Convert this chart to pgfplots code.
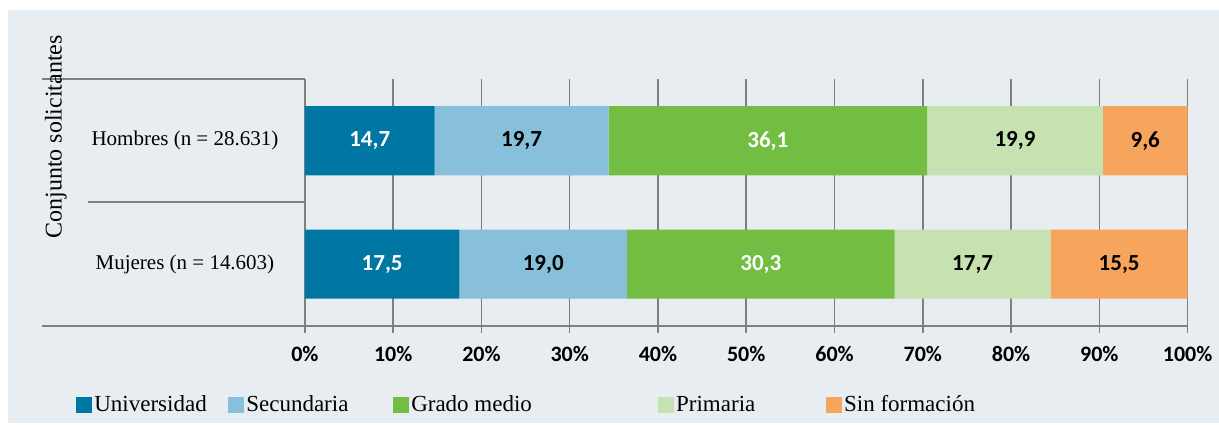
\documentclass[border=0pt]{standalone}
\usepackage{pgfplots}
\pgfplotsset{compat=1.18}
\usepackage{fontspec}
\setmainfont{Liberation Serif}
\newfontfamily\calfont{Carlito}
\definecolor{bg}{HTML}{E8EDF1}
\definecolor{cuni}{HTML}{0077A3}
\definecolor{csec}{HTML}{88BFDA}
\definecolor{cgra}{HTML}{72BD42}
\definecolor{cpri}{HTML}{C6E2B0}
\definecolor{csin}{HTML}{F7A45C}
\definecolor{gridc}{HTML}{7F7F7F}
\begin{document}
\begin{tikzpicture}
\fill[white] (-152.5pt,-49.5pt) rectangle (457pt,163pt);
\fill[bg] (-148.5pt,-48.5pt) rectangle (457pt,158pt);
\begin{axis}[
  at={(0,0)}, anchor=south west,
  scale only axis, width=441.5pt, height=123.5pt,
  xbar stacked, bar width=0.56,
  xmin=0, xmax=100, ymin=-0.5, ymax=1.5,
  axis x line*=bottom, axis y line*=left,
  axis line style={gridc, line width=0.75pt},
  xtick={0,10,...,100},
  xticklabels={0\%,10\%,20\%,30\%,40\%,50\%,60\%,70\%,80\%,90\%,100\%},
  xmajorgrids, grid style={gridc, line width=0.75pt},
  tick align=outside, major tick length=3.5pt,
  x tick style={gridc, line width=0.75pt},
  ytick={0,1}, yticklabels={Mujeres (n = 14.603), Hombres (n = 28.631)},
  y tick style={draw=none},
  yticklabel style={anchor=center, xshift=-56.5pt, font=\fontsize{10.5}{12}\selectfont},
  xticklabel style={font=\calfont\bfseries\fontsize{11}{13}\selectfont, yshift=-3pt},
  nodes near coords, point meta=rawx,
  nodes near coords={\pgfmathprintnumber[fixed,fixed zerofill,precision=1,use comma,assume math mode=true]{\pgfplotspointmeta}},
  every node near coord/.append style={font=\calfont\bfseries\fontsize{11.5}{13}\selectfont, anchor=center},
  legend columns=5,
  legend style={draw=none, fill=none, at={(0,0)}, anchor=west, xshift=-114.5pt, yshift=-40pt,
    font=\fontsize{11.5}{13}\selectfont, inner sep=0pt,
    /tikz/every even column/.append style={column sep=0pt},
    nodes={inner sep=1pt, text height=8pt, text depth=2pt, anchor=base west}},
  legend image code/.code={\fill[#1] (0pt,-0.5pt) rectangle (8pt,7.5pt);},
]
\addplot[fill=cuni, draw=none, every node near coord/.append style={text=white}] coordinates {(17.5,0) (14.7,1)};
\addlegendentry{\makebox[66pt][l]{Universidad}}
\addplot[fill=csec, draw=none, every node near coord/.append style={text=black}] coordinates {(19.0,0) (19.7,1)};
\addlegendentry{\makebox[72.5pt][l]{Secundaria}}
\addplot[fill=cgra, draw=none, every node near coord/.append style={text=white}] coordinates {(30.3,0) (36.1,1)};
\addlegendentry{\makebox[122.5pt][l]{Grado medio}}
\addplot[fill=cpri, draw=none, every node near coord/.append style={text=black}] coordinates {(17.7,0) (19.9,1)};
\addlegendentry{\makebox[74pt][l]{Primaria}}
\addplot[fill=csin, draw=none, every node near coord/.append style={text=black}] coordinates {(15.5,0) (9.6,1)};
\addlegendentry{Sin formación}
\end{axis}
\draw[gridc, line width=0.75pt] (-131.5pt,0pt) -- (0pt,0pt);
\draw[gridc, line width=0.75pt] (-131.5pt,123.5pt) -- (0pt,123.5pt);
\draw[gridc, line width=0.75pt] (-108.5pt,62pt) -- (0pt,62pt);
\node[rotate=90, font=\fontsize{12}{14}\selectfont] at (-124.5pt,94.5pt) {Conjunto solicitantes};
\end{tikzpicture}
\end{document}
